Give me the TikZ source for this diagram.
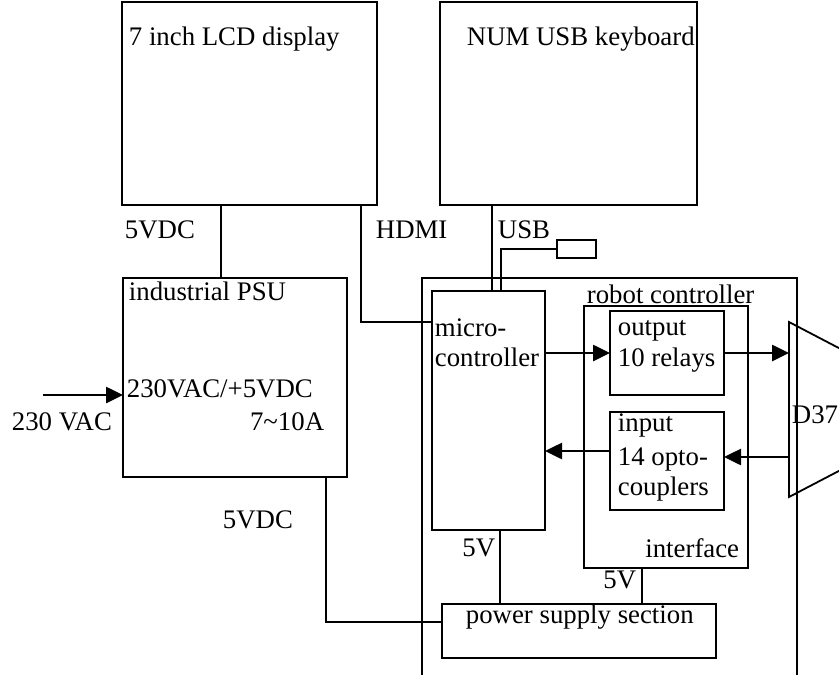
\documentclass[tikz,border=0pt]{standalone}
\usepackage{fontspec}
\setmainfont{Liberation Serif}
\usetikzlibrary{arrows.meta}

\begin{document}
\begin{tikzpicture}[x=0.5pt, y=-0.5pt, >={Triangle[length=8.5pt,width=8pt]},
  line width=0.9pt,
  blk/.style={draw, inner sep=0pt, outer sep=0pt},
  txt/.style={font=\fontsize{13.4}{16}\selectfont, inner sep=0pt, anchor=base west},
  txtr/.style={txt, anchor=base east},
  sig/.style={->, line width=1.3pt}
]
\useasboundingbox (0,0) rectangle (839,674);
\clip (0,0) rectangle (839,674);

\node[blk, minimum width=127.5pt, minimum height=101.5pt] (lcd) at (249.5,103.5) {};
\node[blk, minimum width=128.5pt, minimum height=101.5pt] (kbd) at (568.5,103.5) {};
\node[blk, minimum width=112pt, minimum height=99.5pt] (psu) at (235,377.5) {};
\node[blk, minimum width=56.5pt, minimum height=119.5pt] (mcu) at (488.5,410.5) {};
\node[blk, minimum width=82pt, minimum height=131pt] (robot) at (666,437) {};
\node[blk, minimum width=57pt, minimum height=42pt] (outbox) at (667,353) {};
\node[blk, minimum width=57pt, minimum height=49pt] (inbox) at (667,461) {};
\node[blk, minimum width=137pt, minimum height=27pt] (pss) at (579,631) {};
\node[blk, minimum width=19.5pt, minimum height=9pt] (plug) at (576.5,249) {};

% enclosure, open at the bottom
\draw (422,700) |- (797,278) -- (797,700);
% D37 connector
\coordinate (d37l) at (789,0);
\draw (900,380) -- (789,322) -- (789,497) -- (900,439);

\node[txt] (lcdtxt) at (128,46) {7 inch LCD display};
\node[txt] (kbdtxt) at (466,46) {NUM USB keyboard};
\node[txt] (vdca) at (124,238) {5VDC};
\node[txt] (hdmitxt) at (375,238) {HDMI};
\node[txt] (usbtxt) at (497,238) {USB};
\node[txt] (psutxt) at (128,300) {industrial PSU};
\node[txt] (psuv) at (126,397) {230VAC/+5VDC};
\node[txtr] (psua) at (325,430) {7\char`~10A};
\node[txt] (actxt) at (11,430) {230 VAC};
\node[txt] (vdcb) at (222,528) {5VDC};
\node[txt] (mcua) at (434,336) {micro-};
\node[txt] (mcub) at (434,366) {controller};
\node[txt] (robottxt) at (586,303) {robot controller};
\node[txt] (outa) at (617,335) {output};
\node[txt] (outb) at (617,366) {10 relays};
\node[txt] (ina) at (617,431) {input};
\node[txt] (inb) at (617,465) {14 opto-};
\node[txt] (inc) at (617,495) {couplers};
\node[txtr] (iftxt) at (740,557) {interface};
\node[txt] (d37txt) at (791,423) {D37};
\node[txtr] (va) at (496,556) {5V};
\node[txtr] (vb) at (637,588) {5V};
\node[txt] (psstxt) at (465,623) {power supply section};

\coordinate (c5a) at (221,0);
\coordinate (hdmi) at (361,322);
\coordinate (usb) at (492,0);
\coordinate (plugx) at (501,0);
\coordinate (acin) at (43,395);
\coordinate (psin) at (326,622);
\coordinate (c5c) at (500,0);
\coordinate (c5d) at (642,0);
\coordinate (yin) at (0,457);
\coordinate (yout) at (0,451);

\draw (lcd.south -| c5a) -- (psu.north -| c5a);
\draw (lcd.south -| hdmi) -- (hdmi) -- (mcu.west |- hdmi);
\draw (kbd.south -| usb) -- (mcu.north -| usb);
\draw (plug.west) -| (mcu.north -| plugx);
\draw[sig] (acin) -- (psu.west |- acin);
\draw (psu.south -| psin) -- (psin) -- (pss.west |- psin);
\draw (mcu.south -| c5c) -- (pss.north -| c5c);
\draw (robot.south -| c5d) -- (pss.north -| c5d);
\draw[sig] (mcu.east |- outbox) -- (outbox.west);
\draw[sig] (outbox.east) -- (d37l |- outbox.east);
\draw[sig] (d37l |- yin) -- (inbox.east |- yin);
\draw[sig] (inbox.west |- yout) -- (mcu.east |- yout);
\end{tikzpicture}
\end{document}
